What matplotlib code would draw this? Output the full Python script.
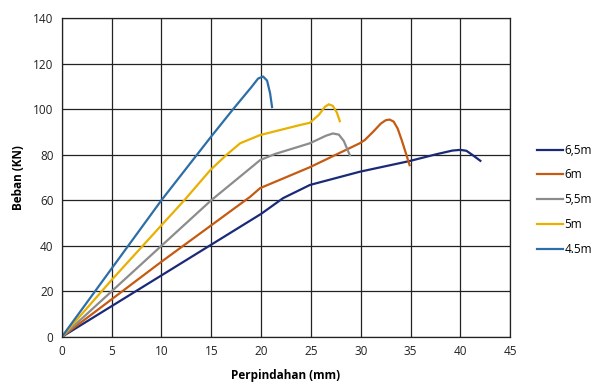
import matplotlib
matplotlib.use("Agg")
import matplotlib.pyplot as plt

labels = ["6,5m", "6m", "5,5m", "5m", "4.5m"]
colors = ["#1B2A78", "#C55A11", "#8C8C8C", "#E8B000", "#2E6EA6"]

x65 = [0, 5, 10, 15, 20, 22.2, 24.9, 29.9, 34.9, 37.6, 39.2, 40.0, 40.6, 41.2, 42.0]
y65 = [0, 13.5, 27, 40.5, 54, 60.9, 66.7, 72.5, 77.2, 80.2, 81.8, 82.1, 81.7, 79.9, 77.3]

x6 = [0, 5, 10, 15, 18.9, 19.9, 24.9, 29.9, 30.4, 31.3, 32.0, 32.5, 32.9, 33.3, 33.7, 34.1, 34.5, 34.9]
y6 = [0, 16.5, 33, 49, 61.5, 65.3, 74.5, 85, 86.4, 90.3, 93.6, 95.1, 95.4, 94.5, 91.5, 86.5, 81, 75.4]

x55 = [0, 5, 10, 15, 18.9, 19.9, 21.4, 24.9, 26.5, 27.2, 27.8, 28.3, 28.9]
y55 = [0, 20, 40, 60, 74, 77.6, 80.3, 85, 88.3, 89.3, 88.8, 86, 79.8]

x5 = [0, 5, 10, 12.3, 14.9, 16.5, 17.9, 19.9, 23.9, 24.9, 25.8, 26.4, 26.8, 27.2, 27.6, 27.9]
y5 = [0, 25, 49, 60, 73.2, 79.8, 85, 88.6, 93, 94, 97.5, 101, 102.1, 101.4, 98.5, 94.7]

x45 = [0, 5, 10, 15, 17.2, 19.0, 19.7, 20.2, 20.6, 20.9, 21.1]
y45 = [0, 30, 60, 88, 100, 109.5, 113.4, 114.3, 112.5, 107, 100.9]

xs = [x65, x6, x55, x5, x45]
ys = [y65, y6, y55, y5, y45]

xticks = list(range(0, 50, 5))
yticks = list(range(0, 160, 20))

plt.rcParams['font.family'] = ['Open Sans', 'DejaVu Sans']

fig = plt.figure(figsize=(5.94, 3.82), dpi=100)
ax = fig.add_axes([0.104, 0.118, 0.755, 0.835])

for x, y, c, l in zip(xs, ys, colors, labels):
    ax.plot(x, y, color=c, lw=1.6, label=l, solid_joinstyle='round')

ax.set_xlim(0, 45)
ax.set_ylim(0, 140)
ax.set_xticks(xticks)
ax.set_yticks(yticks)
ax.grid(True, color='#222222', lw=0.9)
for s in ax.spines.values():
    s.set_color('#222222')
    s.set_linewidth(0.9)
ax.tick_params(length=0, labelsize=8.5, pad=6, colors='#222222')
ax.set_xlabel("Perpindahan (mm)", fontsize=8.5, fontweight='bold', labelpad=8)
ax.set_ylabel("Beban (KN)", fontsize=8.5, fontweight='bold', labelpad=6)

leg = ax.legend(loc='center left', bbox_to_anchor=(1.05, 0.43), frameon=False,
                fontsize=8.5, handlelength=2.2, handletextpad=0.1,
                labelspacing=1.0, borderaxespad=0)

fig.savefig("out.png", dpi=100)
